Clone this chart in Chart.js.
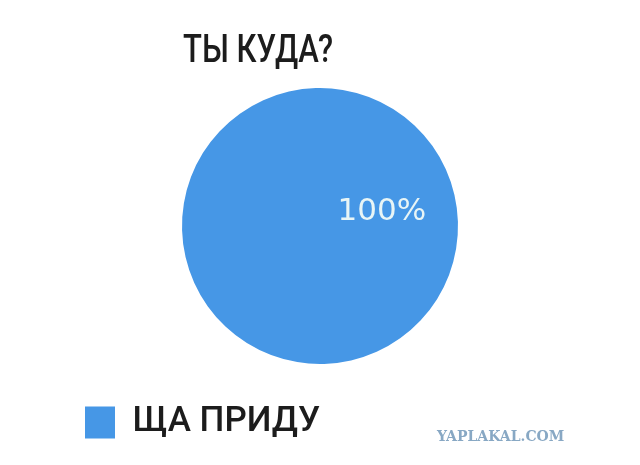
<!DOCTYPE html>
<html>
<head>
<meta charset="utf-8">
<script src="https://cdn.jsdelivr.net/npm/chart.js@4/dist/chart.umd.min.js"></script>
<style>
  html, body { margin: 0; padding: 0; background: #fff; }
  #wrap { position: relative; width: 640px; height: 465px; }
</style>
</head>
<body>
<div id="wrap"><canvas id="chart" width="640" height="465"></canvas></div>
<script>
// данные
const chartTitle = 'ТЫ КУДА?'
const categories = ['ЩА ПРИДУ']
const values = [100]
const sliceColors = ['#4697e6']
const watermark = 'YAPLAKAL.COM'

// заголовок и водяной знак рисуем сами, чтобы сдвинуть заголовок левее центра круга
const extraText = {
    id: 'extraText',
    afterDraw(chart) {
        const ctx = chart.ctx
        const area = chart.chartArea
        ctx.save()
        ctx.fillStyle = '#1c1c1c'
        ctx.font = '500 38px Roboto, "DejaVu Sans Condensed", sans-serif'
        ctx.textAlign = 'center'
        ctx.textBaseline = 'alphabetic'
        // шрифт в оригинале уже, поэтому сжимаем по ширине
        ctx.fillText(chartTitle, (area.left + area.right) / 2 - 62, 62, 150)

        ctx.fillStyle = '#88a8c4'
        ctx.font = 'bold 14px "DejaVu Serif", serif'
        ctx.textAlign = 'left'
        ctx.fillText(watermark, 437, 441)
        ctx.restore()
    }
}

// подпись с процентами внутри сектора
const sliceLabels = {
    id: 'sliceLabels',
    afterDatasetsDraw(chart) {
        const ctx = chart.ctx
        const meta = chart.getDatasetMeta(0)
        const total = values.reduce((a, b) => a + b, 0)
        ctx.save()
        ctx.fillStyle = '#e8f5f6'
        ctx.font = '31px "DejaVu Sans", sans-serif'
        ctx.textAlign = 'center'
        ctx.textBaseline = 'middle'
        meta.data.forEach((arc, i) => {
            const p = arc.getProps(['x', 'y', 'startAngle', 'endAngle', 'outerRadius'], true)
            const mid = (p.startAngle + p.endAngle) / 2
            const r = p.outerRadius * 0.46
            const pct = Math.round(values[i] / total * 100) + '%'
            ctx.fillText(pct, p.x + Math.cos(mid) * r, p.y + Math.sin(mid) * r)
        })
        ctx.restore()
    }
}

new Chart(document.getElementById('chart'), {
    type: 'pie',
    data: {
        labels: categories,
        datasets: [{
            data: values,
            backgroundColor: sliceColors,
            borderWidth: 0
        }]
    },
    options: {
        responsive: false,
        animation: false,
        rotation: -103,
        radius: 138,
        layout: { padding: { top: 62, left: 70, right: 70, bottom: 15 } },
        plugins: {
            tooltip: { enabled: false },
            legend: {
                position: 'bottom',
                align: 'start',
                labels: {
                    boxWidth: 30,
                    boxHeight: 32,
                    padding: 15,
                    color: '#1c1c1c',
                    font: { size: 35, weight: '500', family: 'Roboto, "DejaVu Sans Condensed", sans-serif' }
                }
            }
        }
    },
    plugins: [sliceLabels, extraText]
});
</script>
</body>
</html>
